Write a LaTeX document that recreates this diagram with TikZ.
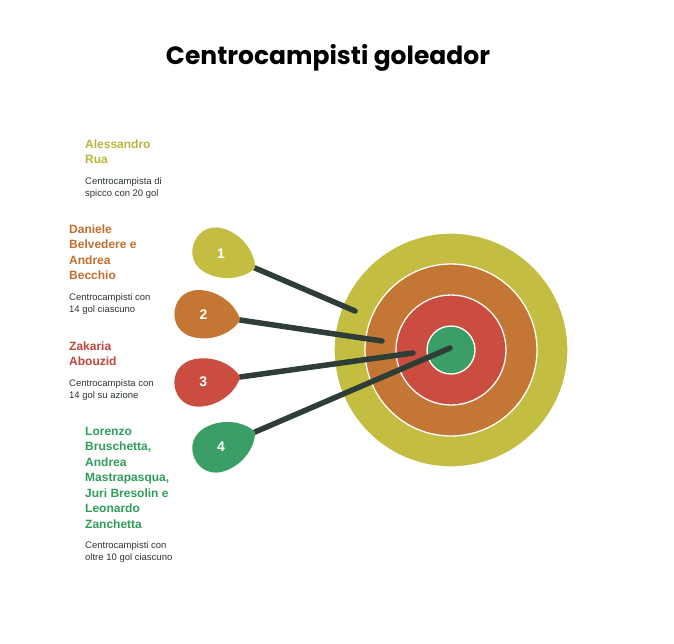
\documentclass[tikz,border=0pt]{standalone}
\usepackage{fontspec}
\setmainfont{Liberation Sans}
\newfontfamily\titlefont{Poppins}
\usetikzlibrary{positioning}
\definecolor{Olive}{HTML}{C3BD41}
\definecolor{Amber}{HTML}{C47634}
\definecolor{Brick}{HTML}{CB4D40}
\definecolor{Jade}{HTML}{3A9E66}
\definecolor{OliveTxt}{HTML}{B8B63C}
\definecolor{AmberTxt}{HTML}{C06E2E}
\definecolor{BrickTxt}{HTML}{C0443A}
\definecolor{JadeTxt}{HTML}{2F9C5A}
\definecolor{Ink}{HTML}{2B3530}
\definecolor{Shaft}{HTML}{2E3D35}
\tikzset{
  pics/dart/.style 2 args={code={
    \fill[#2] (0,0) .. controls (-3,9) and (-18,24) .. (-40,24)
      .. controls (-58,24) and (-66,12) .. (-66,0)
      .. controls (-66,-12) and (-58,-24) .. (-40,-24)
      .. controls (-18,-24) and (-3,-9) .. cycle;
    \node[numLabel] at (-37,0) {#1};
  }}
}

\begin{document}
\begin{tikzpicture}[
    x=1pt, y=-1pt,
    ring/.style={circle, draw=white, line width=1.3pt, inner sep=0pt},
    numLabel/.style={text=white, font=\bfseries\fontsize{14}{16}\selectfont},
    nameKey/.style={anchor=north west, align=left, inner sep=0pt,
      font=\bfseries\fontsize{12}{15.5}\selectfont},
    noteKey/.style={anchor=north west, align=left, inner sep=0pt, text=Ink,
      font=\fontsize{9.5}{12}\selectfont},
    shaft/.style={draw=Shaft, line width=5.5pt, line cap=round},
  ]
  \useasboundingbox (0,0) rectangle (674,643);
  % title
  \node[anchor=base, font=\titlefont\bfseries\fontsize{25}{29}\selectfont] (title) at (328,64) {Centrocampisti goleador};
  % target
  \node[ring, fill=Olive, minimum size=234pt] (ringA) at (451,350) {};
  \node[ring, fill=Amber, minimum size=172pt] (ringB) at (ringA.center) {};
  \node[ring, fill=Brick, minimum size=110pt] (ringC) at (ringA.center) {};
  \node[ring, fill=Jade, minimum size=48pt] (ringD) at (ringA.center) {};
  % darts
  \coordinate (tipA) at (255,268);  \coordinate (hitA) at (355,311);
  \coordinate (tipB) at (240,320);  \coordinate (hitB) at (382,341);
  \coordinate (tipC) at (240,377);  \coordinate (hitC) at (413,353);
  \coordinate (tipD) at (255,432);  \coordinate (hitD) at (450,348);
  \draw[shaft] (tipA) -- (hitA);
  \draw[shaft] (tipB) -- (hitB);
  \draw[shaft] (tipC) -- (hitC);
  \draw[shaft] (tipD) -- (hitD);
  \pic[rotate=-23.3] at (tipA) {dart={1}{Olive}};
  \pic[rotate=-8.4] at (tipB) {dart={2}{Amber}};
  \pic[rotate=7.9] at (tipC) {dart={3}{Brick}};
  \pic[rotate=23.3] at (tipD) {dart={4}{Jade}};
  % legend texts
  \node[nameKey, text=OliveTxt] (nameA) at (85,139.2) {Alessandro\\Rua};
  \node[noteKey, below=13pt of nameA.south west, anchor=north west] (noteA) {Centrocampista di\\spicco con 20 gol};
  \node[nameKey, text=AmberTxt] (nameB) at (69,224.5) {Daniele\\Belvedere e\\Andrea\\Becchio};
  \node[noteKey, below=13pt of nameB.south west, anchor=north west] (noteB) {Centrocampisti con\\14 gol ciascuno};
  \node[nameKey, text=BrickTxt] (nameC) at (69,341.2) {Zakaria\\Abouzid};
  \node[noteKey, below=13pt of nameC.south west, anchor=north west] (noteC) {Centrocampista con\\14 gol su azione};
  \node[nameKey, text=JadeTxt] (nameD) at (85,426.9) {Lorenzo\\Bruschetta,\\Andrea\\Mastrapasqua,\\Juri Bresolin e\\Leonardo\\Zanchetta};
  \node[noteKey, below=13pt of nameD.south west, anchor=north west] (noteD) {Centrocampisti con\\oltre 10 gol ciascuno};
\end{tikzpicture}
\end{document}
